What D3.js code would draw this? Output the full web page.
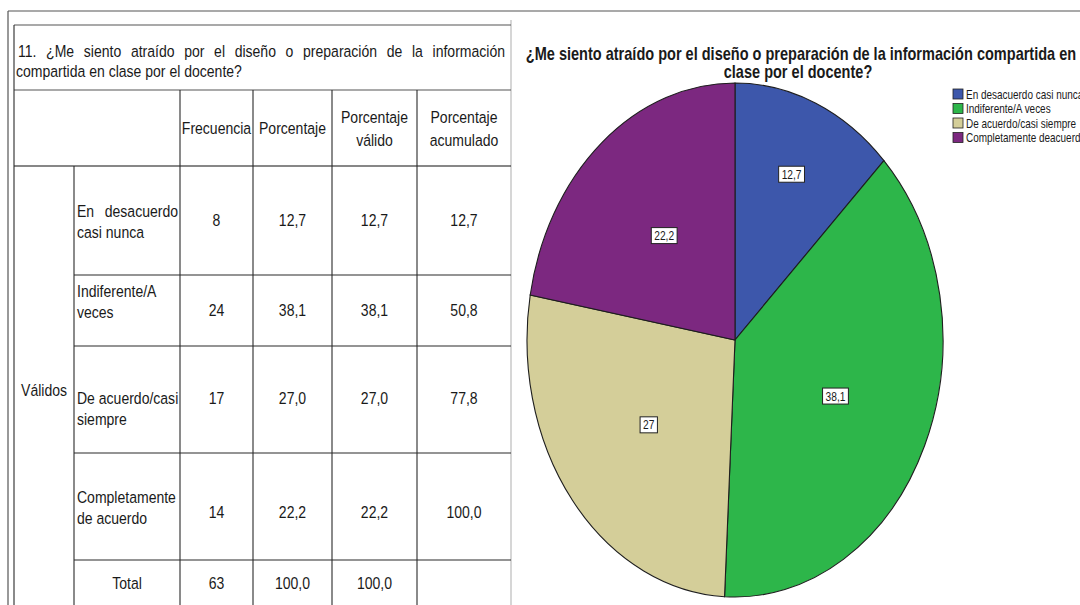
<!DOCTYPE html>
<html><head><meta charset="utf-8">
<script src="https://cdn.jsdelivr.net/npm/d3@7"></script>
<style>
html,body{margin:0;padding:0;background:#fff;}
svg{display:block;}
text{font-family:"Liberation Sans",Arial,sans-serif;fill:#1a1a1a;}
</style></head>
<body>
<svg id="c" width="1080" height="605"></svg>
<script>
// ---------- data ----------
const tableTitle = ["11.", "¿Me", "siento", "atraído", "por", "el", "diseño", "o", "preparación", "de", "la", "información"];
const tableTitle2 = "compartida en clase por el docente?";
const headers = [["Frecuencia"], ["Porcentaje"], ["Porcentaje", "válido"], ["Porcentaje", "acumulado"]];
const rowLabelLines = [["En desacuerdo", "casi nunca"], ["Indiferente/A", "veces"], ["De acuerdo/casi", "siempre"], ["Completamente", "de acuerdo"]];
const frecuencia = [8, 24, 17, 14];
const porcentaje = ["12,7", "38,1", "27,0", "22,2"];
const porcentajeValido = ["12,7", "38,1", "27,0", "22,2"];
const porcentajeAcumulado = ["12,7", "50,8", "77,8", "100,0"];
const totalRow = ["Total", "63", "100,0", "100,0", ""];
const groupLabel = "Válidos";

const chartTitle = ["¿Me siento atraído por el diseño o preparación de la información compartida en", "clase por el docente?"];
const categories = ["En desacuerdo casi nunca", "Indiferente/A veces", "De acuerdo/casi siempre", "Completamente deacuerdo"];
const pieValues = [12.7, 38.1, 27, 22.2];
const colors = ["#3d57ab", "#2db64a", "#d4ce99", "#7c2880"];

// ---------- layout ----------
const svg = d3.select("#c");
const lineCol = "#2a2a2a";
const SX = 0.85; // horizontal squeeze of the original picture

// outer frame lines
svg.append("line").attr("x1", 8).attr("x2", 1080).attr("y1", 11).attr("y2", 11).attr("stroke", "#555").attr("stroke-width", 1.2);
svg.append("line").attr("x1", 8).attr("x2", 8).attr("y1", 11).attr("y2", 605).attr("stroke", "#555").attr("stroke-width", 1.2);
svg.append("line").attr("x1", 511).attr("x2", 511).attr("y1", 20).attr("y2", 605).attr("stroke", "#c8c8c8").attr("stroke-width", 1.5);

// table grid
const colX = [14, 74, 180, 253, 332, 417, 511];
const hl = (x1, x2, y, c) => svg.append("line").attr("x1", x1).attr("x2", x2).attr("y1", y).attr("y2", y).attr("stroke", c || lineCol).attr("stroke-width", 1.1);
const vl = (x, y1, y2, c) => svg.append("line").attr("x1", x).attr("x2", x).attr("y1", y1).attr("y2", y2).attr("stroke", c || lineCol).attr("stroke-width", 1.1);
hl(14, 511, 25, "#555");
hl(14, 511, 90, "#555");
hl(14, 511, 166, "#111");
[275, 346, 453, 560].forEach(y => hl(74, 511, y));
vl(14, 25, 605);
vl(74, 166, 605);
[180, 253, 332, 417].forEach(x => vl(x, 90, 605));

const FS = 16.5;
function txt(x, y, s, anchor, size, weight, sx) {
  return svg.append("text").attr("transform", `translate(${x},${y}) scale(${sx || SX},1)`)
    .attr("text-anchor", anchor || "start")
    .attr("font-size", size || FS).attr("font-weight", weight || "normal").text(s);
}
// justified line of words between x0 and x1
function justify(words, x0, x1, y, size) {
  const nodes = words.map(w => txt(0, y, w, "start", size));
  const widths = nodes.map(n => n.node().getComputedTextLength() * SX);
  const total = d3.sum(widths);
  const gap = (x1 - x0 - total) / (words.length - 1);
  let x = x0;
  nodes.forEach((n, i) => { n.attr("transform", `translate(${x},${y}) scale(${SX},1)`); x += widths[i] + gap; });
}

justify(tableTitle, 18, 505, 57, FS);
txt(16, 77, tableTitle2);

// headers
const colCenters = d3.range(4).map(i => (colX[i + 2] + colX[i + 3]) / 2);
headers.forEach((h, i) => {
  const cx = colCenters[i];
  if (h.length === 1) txt(cx, 134, h[0], "middle");
  else h.forEach((l, j) => txt(cx, 123 + j * 23, l, "middle"));
});

// rows
const rowMidY = [220, 310, 398, 512];
rowLabelLines.forEach((lines, i) => {
  const top = [217, 297, 404, 503][i];
  lines.forEach((l, j) => {
    const w = l.split(" ");
    if (j === 0 && i === 0) justify(w, 77, 178, top, FS);
    else txt(77, top + j * 21, l);
  });
  const vals = [frecuencia[i], porcentaje[i], porcentajeValido[i], porcentajeAcumulado[i]];
  vals.forEach((v, k) => txt(colCenters[k], rowMidY[i] + 6, v, "middle"));
});
txt(44, 396, groupLabel, "middle");
txt((74 + 180) / 2, 589, totalRow[0], "middle");
totalRow.slice(1).forEach((v, k) => txt(colCenters[k], 589, v, "middle"));

// ---------- pie ----------
const cx = 735, cy = 340, rx = 208, ry = 257;
const pie = d3.pie().sort(null).value(d => d)(pieValues);
const arc = d3.arc().innerRadius(0).outerRadius(ry);
const gp = svg.append("g").attr("transform", `translate(${cx},${cy}) scale(${rx / ry},1)`);
gp.selectAll("path").data(pie).join("path")
  .attr("d", arc).attr("fill", (d, i) => colors[i])
  .attr("stroke", "#1e1e1e").attr("stroke-width", 1.1).attr("vector-effect", "non-scaling-stroke");

// labels
pie.forEach((d, i) => {
  const mid = (d.startAngle + d.endAngle) / 2;
  const f = (d.endAngle - d.startAngle) < 1.0 ? 0.70 : 0.53;
  const lx = cx + Math.sin(mid) * rx * f, ly = cy - Math.cos(mid) * ry * f;
  const label = String(pieValues[i]).replace(".", ",");
  const t = txt(lx, ly + 4.5, label, "middle", 12);
  const w = t.node().getComputedTextLength() * SX;
  svg.insert("rect", () => t.node()).attr("x", lx - w / 2 - 3).attr("y", ly - 8).attr("width", w + 6).attr("height", 16)
    .attr("fill", "#fff").attr("stroke", "#222").attr("stroke-width", 1);
});

// chart title
txt(801, 60, chartTitle[0], "middle", 17.5, "bold", 0.83);
txt(798, 78, chartTitle[1], "middle", 17.5, "bold", 0.83);

// legend
const lx0 = 953, ly0 = 89;
categories.forEach((c, i) => {
  const y = ly0 + i * 14.5;
  svg.append("rect").attr("x", lx0).attr("y", y).attr("width", 10).attr("height", 10)
    .attr("fill", colors[i]).attr("stroke", "#222").attr("stroke-width", 0.8);
  txt(lx0 + 13, y + 9.5, c, "start", 12, "normal", 0.83);
});
</script>
</body></html>
